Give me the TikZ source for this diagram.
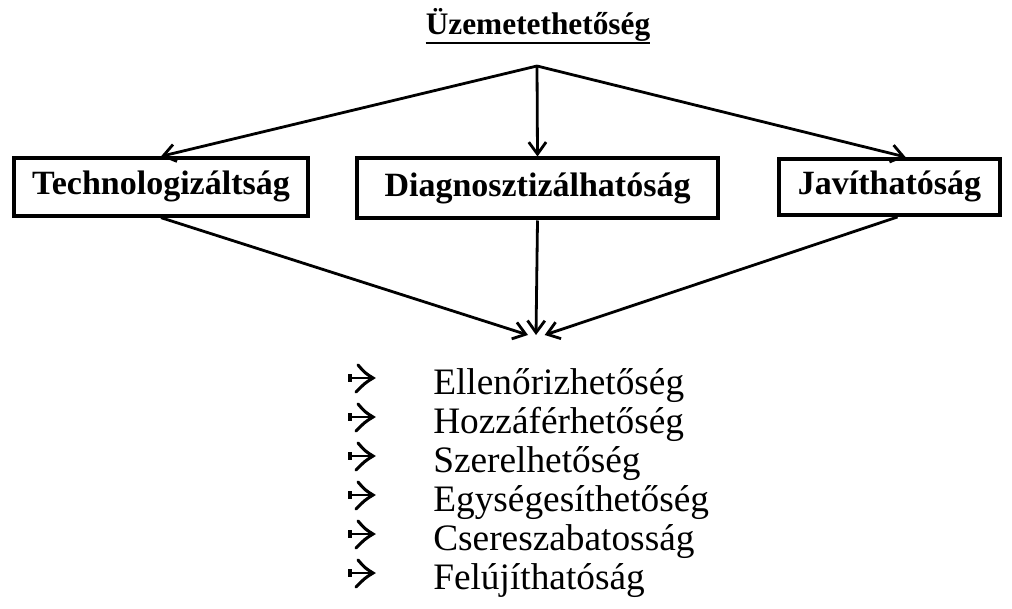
\documentclass[tikz,border=0pt]{standalone}
\usepackage{fontspec}
\setmainfont{Liberation Serif}
\usepackage{tikz}
\usepackage{xcolor}
\usetikzlibrary{arrows.meta}

\tikzset{
  boxnode/.style={draw, line width=3pt, inner sep=0pt,
    font=\fontsize{25.5}{30}\selectfont\bfseries, text height=18pt, text depth=6pt},
  itemnode/.style={anchor=base west, inner sep=0pt, font=\fontsize{28}{33}\selectfont},
  arr/.style={line width=2.1pt, -{Straight Barb[length=9pt,width=13pt]}},
  featherarrow/.pic={
    \draw[line width=1.9pt] (-12,0) -- (11,0);
    \draw[line width=2.3pt] (-11,-4) -- (-11,4);
    \draw[line width=2.3pt, line cap=round] (-3,-13) .. controls (4,-5) .. (12,0) .. controls (4,5) .. (-5,14);
  }
}

\begin{document}
\begin{tikzpicture}[x=0.75pt, y=-0.75pt]
                \useasboundingbox (0,0) rectangle (1012,609);
                \node[anchor=base, inner sep=0pt, font=\fontsize{23.5}{27}\selectfont\bfseries] (title) at (538, 35) {Üzemetethetőség};
                \draw[line width=2pt] ([yshift=-6pt]title.base west) -- ([yshift=-6pt]title.base east);
                \coordinate (top) at (537, 66);
                \node[boxnode, minimum width=221pt, minimum height=43pt] (tech) at (161, 187) {Technologizáltság};
                \node[boxnode, minimum width=271pt, minimum height=45pt] (diag) at (537.5, 188.5) {Diagnosztizálhatóság};
                \node[boxnode, minimum width=166pt, minimum height=42pt] (jav) at (889.5, 187) {Javíthatóság};
                \coordinate (meet) at (536, 335);
                \draw
                (top) edge[arr] node{} (tech.north)
                (top) edge[arr] node{} (diag.north)
                (top) edge[arr] node{} ([xshift=12pt]jav.north)
                (tech.south) edge[arr] node{} ([xshift=-6pt]meet)
                (diag.south) edge[arr] node{} (meet)
                ([xshift=6pt]jav.south) edge[arr] node{} ([xshift=6.5pt]meet);
                \node[itemnode] (ell) at (433, 394) {Ellenőrizhetőség};
                \node[itemnode] (hoz) at (433, 433) {Hozzáférhetőség};
                \node[itemnode] (sze) at (433, 472) {Szerelhetőség};
                \node[itemnode] (egy) at (433, 511) {Egységesíthetőség};
                \node[itemnode] (cse) at (433, 550) {Csereszabatosság};
                \node[itemnode] (fel) at (433, 589) {Felújíthatóság};
                \pic at (361, 378) {featherarrow};
                \pic at (361, 417) {featherarrow};
                \pic at (361, 456) {featherarrow};
                \pic at (361, 495) {featherarrow};
                \pic at (361, 534) {featherarrow};
                \pic at (361, 573) {featherarrow};
            \end{tikzpicture}
\end{document}
